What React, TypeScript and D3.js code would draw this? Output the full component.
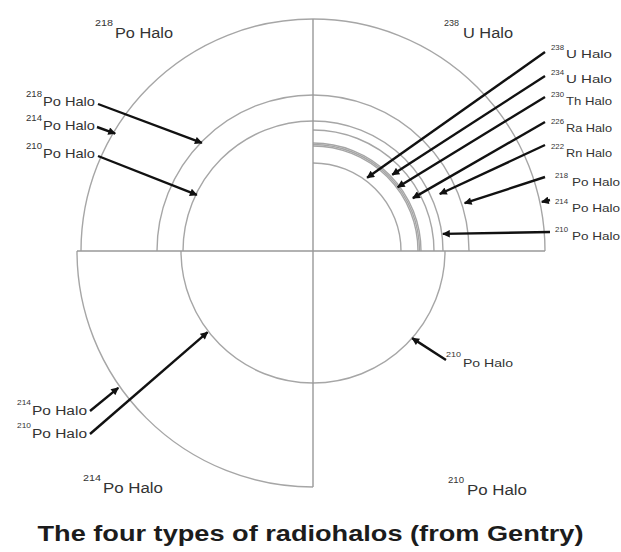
import React from "react";
import * as d3 from "d3";

// --- data ---
// halo type of each quadrant: top-left, top-right, bottom-left, bottom-right
const quadrantMass = ["218", "238", "214", "210"];
const quadrantElement = ["Po", "U", "Po", "Po"];

// ring radii per quadrant (drawing units)
const ringsTL = [130, 156, 232];
const ringsTR = [88, 105, 106.5, 108, 121, 130, 156, 232];
const ringsBL = [132, 236];
const ringsBR = [132];

// arrow labels per quadrant, with arrow tips in polar form (deg ccw from +x, radius)
const massTL = ["218", "214", "210"];
const elemTL = ["Po", "Po", "Po"];
const angTL = [135.8, 149.3, 154.2];
const tipTL = [155, 230, 129];

const massTR = ["238", "234", "230", "226", "222", "218", "214", "210"];
const elemTR = ["U", "U", "Th", "Ra", "Rn", "Po", "Po", "Po"];
const angTR = [53.5, 43.9, 37.0, 27.9, 24.2, 17.5, 12.1, 7.5];
const tipTR = [91, 110, 106, 113, 139, 159, 234, 131];

const massBL = ["214", "210"];
const elemBL = ["Po", "Po"];
const angBL = [215.1, 217.6];
const tipBL = [238, 133];

const massBR = ["210"];
const elemBR = ["Po"];
const angBR = [318.7];
const tipBR = [132];

const title = "The four types of radiohalos (from Gentry)";

// --- layout ---
const W = 621;
const H = 552;
const cx = 313;
const cy = 251;
const FONT = "'Liberation Sans', Arial, Helvetica, sans-serif";

const r = d3.scaleLinear().domain([0, 240]).range([0, 240]);

// label anchors (baseline of the element text)
const sideTL = { x: 43, w: 52, size: 13, supX: 26, supW: 16, supSize: 8.5, supDy: -9, ys: [106, 130, 158] };
const sideTR = { x: 566, w: 46, size: 10.5, supX: 551, supW: 13, supSize: 7.5, supDy: -8, ys: [58, 83, 105, 132, 157, 186, 212, 240] };
const sideBL = { x: 32, w: 55, size: 12, supX: 17, supW: 14, supSize: 8, supDy: -10, ys: [415, 438] };
const sideBR = { x: 463, w: 50, size: 11.5, supX: 446, supW: 15, supSize: 8, supDy: -10, ys: [367] };
const startTL = [[98, 104], [97, 127], [98, 156]];
const startTR = [[545, 52], [545, 76], [545, 97], [545, 122], [545, 145], [545, 177], [550, 200], [550, 232]];
const startBL = [[90, 411], [90, 434]];
const startBR = [[446, 360]];

const heads = [
  { x: 115, y: 38, w: 58, supX: 95, supW: 18 },
  { x: 463, y: 38, w: 50, supX: 444, supW: 15 },
  { x: 103, y: 493, w: 60, supX: 83, supW: 18 },
  { x: 467, y: 495, w: 60, supX: 448, supW: 16 },
];

// quadrant angle spans in screen radians (0 = +x, clockwise)
const spans: [number, number][] = [
  [Math.PI, 1.5 * Math.PI],
  [1.5 * Math.PI, 2 * Math.PI],
  [0.5 * Math.PI, Math.PI],
  [0, 0.5 * Math.PI],
];

function arcPath(rad: number, a0: number, a1: number) {
  const p = d3.path();
  p.moveTo(cx + r(rad) * Math.cos(a0), cy + r(rad) * Math.sin(a0));
  p.arc(cx, cy, r(rad), a0, a1);
  return p.toString();
}

function polar(deg: number, rad: number): [number, number] {
  const a = (deg * Math.PI) / 180;
  return [cx + r(rad) * Math.cos(a), cy - r(rad) * Math.sin(a)];
}

function Label({ x, y, w, size, supX, supW, supSize, supDy, mass, el }: any) {
  const main = `${el} Halo`;
  return (
    <g fill="#333" fontFamily={FONT}>
      <text x={supX} y={y + supDy} fontSize={supSize} textLength={supW} lengthAdjust="spacingAndGlyphs">
        {mass}
      </text>
      <text x={x} y={y} fontSize={size} textLength={w} lengthAdjust="spacingAndGlyphs">
        {main}
      </text>
    </g>
  );
}

export default function App() {
  const ringSets = [ringsTL, ringsTR, ringsBL, ringsBR];
  const groups = [
    { side: sideTL, start: startTL, mass: massTL, el: elemTL, ang: angTL, tip: tipTL },
    { side: sideTR, start: startTR, mass: massTR, el: elemTR, ang: angTR, tip: tipTR },
    { side: sideBL, start: startBL, mass: massBL, el: elemBL, ang: angBL, tip: tipBL },
    { side: sideBR, start: startBR, mass: massBR, el: elemBR, ang: angBR, tip: tipBR },
  ];
  const topR = Math.max(d3.max(ringsTL)!, d3.max(ringsTR)!);
  const botR = Math.max(d3.max(ringsBL)!, d3.max(ringsBR)!);
  const leftR = Math.max(d3.max(ringsTL)!, d3.max(ringsBL)!);
  const rightR = Math.max(d3.max(ringsTR)!, d3.max(ringsBR)!);

  return (
    <svg width={W} height={H} style={{ position: "absolute", left: 0, top: 0, background: "#fff" }}>
      <defs>
        <marker id="head" viewBox="0 -5 10 10" refX={9} refY={0} markerWidth={3.8} markerHeight={3.2} orient="auto">
          <path d="M0,-5L10,0L0,5Z" fill="#111" />
        </marker>
      </defs>

      {/* quadrant rings */}
      {ringSets.map((rings, qi) =>
        rings.map((rad, i) => (
          <path key={`r${qi}-${i}`} d={arcPath(rad, spans[qi][0], spans[qi][1])} fill="none" stroke="#a6a6a6" strokeWidth={1.4} />
        ))
      )}

      {/* cross */}
      <line x1={cx} x2={cx} y1={cy - r(topR)} y2={cy + r(botR)} stroke="#999" strokeWidth={1.4} />
      <line x1={cx - r(leftR)} x2={cx + r(rightR)} y1={cy} y2={cy} stroke="#999" strokeWidth={1.4} />

      {/* arrows + labels */}
      {groups.map((g, gi) =>
        g.mass.map((m, i) => {
          const [tx, ty] = polar(g.ang[i], g.tip[i]);
          const [sx, sy] = g.start[i];
          const s = g.side;
          const wide = gi === 1 && g.el[i] === "Po";
          return (
            <g key={`a${gi}-${i}`}>
              <line x1={sx} y1={sy} x2={tx} y2={ty} stroke="#111" strokeWidth={2.4} markerEnd="url(#head)" />
              <Label
                x={wide ? s.x + 6 : s.x}
                y={s.ys[i]}
                w={wide ? s.w + 2 : s.w}
                size={s.size}
                supX={wide ? s.supX + 4 : s.supX}
                supW={s.supW}
                supSize={s.supSize}
                supDy={s.supDy}
                mass={m}
                el={g.el[i]}
              />
            </g>
          );
        })
      )}

      {/* quadrant headings */}
      {heads.map((h, i) => (
        <Label
          key={`h${i}`}
          x={h.x}
          y={h.y}
          w={h.w}
          size={14}
          supX={h.supX}
          supW={h.supW}
          supSize={9}
          supDy={-12}
          mass={quadrantMass[i]}
          el={quadrantElement[i]}
        />
      ))}

      <text
        x={W / 2}
        y={541}
        textAnchor="middle"
        fontFamily={FONT}
        fontWeight="bold"
        fontSize={22}
        fill="#1c1c1c"
        textLength={546}
        lengthAdjust="spacingAndGlyphs"
      >
        {title}
      </text>
    </svg>
  );
}
